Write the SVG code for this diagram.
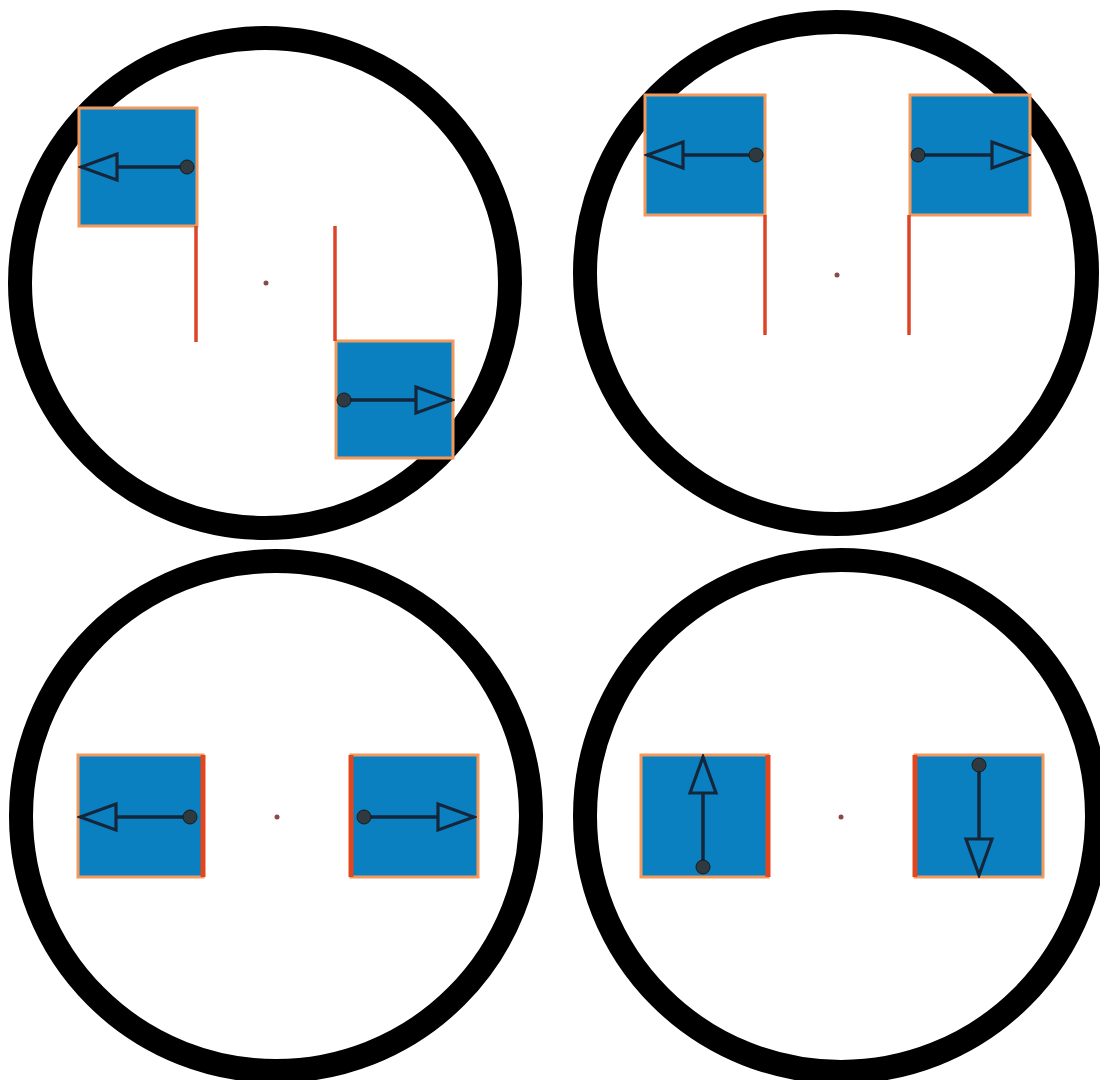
<svg xmlns="http://www.w3.org/2000/svg" width="1100" height="1080" viewBox="0 0 1100 1080">
<style>
.ring{fill:none;stroke:#000;stroke-width:24}
.box{fill:#0a80c0;stroke:#f29a5e;stroke-width:3}
.handle{stroke:#dc4428;stroke-width:3.5;fill:none}
.edge{stroke:#e2461e;stroke-width:5;fill:none}
.center{fill:#8a4a4a}
.arr{stroke:#16263a;stroke-width:3.5;fill:none;marker-end:url(#head)}
.pin{fill:#2e3a40;stroke:#1a1a1a;stroke-width:1}
</style>
<defs>
<marker id="head" markerUnits="userSpaceOnUse" viewBox="-3 -3 42 32" markerWidth="42" markerHeight="32" refX="36" refY="13" orient="auto">
<path d="M0,0 L36,13 L0,26 Z" fill="#0a80c0" stroke="#16263a" stroke-width="3.2" stroke-linejoin="miter"/>
</marker>
</defs>
<rect width="1100" height="1080" fill="#fff"/>

<g id="circle-tl">
<circle class="ring" cx="265" cy="283" r="245"/>
<circle class="center" cx="266" cy="283" r="2.5"/>
</g>
<g id="circle-tr">
<circle class="ring" cx="836" cy="273" r="251"/>
<circle class="center" cx="837" cy="275" r="2.5"/>
</g>
<g id="circle-bl">
<circle class="ring" cx="276" cy="816" r="255"/>
<circle class="center" cx="277" cy="817" r="2.5"/>
</g>
<g id="circle-br">
<circle class="ring" cx="841" cy="816" r="256"/>
<circle class="center" cx="841" cy="817" r="2.5"/>
</g>

<g id="node-tl-1">
<rect class="box" x="79" y="108" width="118" height="118"/>
<line class="handle" x1="196" y1="226" x2="196" y2="342"/>
</g>
<g id="node-tl-2">
<rect class="box" x="336" y="341" width="117" height="117"/>
<line class="handle" x1="335" y1="226" x2="335" y2="341"/>
</g>
<g id="node-tr-1">
<rect class="box" x="645" y="95" width="120" height="120"/>
<line class="handle" x1="765" y1="215" x2="765" y2="335"/>
</g>
<g id="node-tr-2">
<rect class="box" x="910" y="95" width="120" height="120"/>
<line class="handle" x1="909" y1="215" x2="909" y2="335"/>
</g>
<g id="node-bl-1">
<rect class="box" x="78" y="755" width="125" height="122"/>
<line class="edge" x1="203" y1="755" x2="203" y2="877"/>
</g>
<g id="node-bl-2">
<rect class="box" x="351" y="755" width="127" height="122"/>
<line class="edge" x1="351" y1="755" x2="351" y2="877"/>
</g>
<g id="node-br-1">
<rect class="box" x="641" y="755" width="127" height="122"/>
<line class="edge" x1="768" y1="755" x2="768" y2="877"/>
</g>
<g id="node-br-2">
<rect class="box" x="915" y="755" width="128" height="122"/>
<line class="edge" x1="915" y1="755" x2="915" y2="877"/>
</g>

<g id="connectors">
<line class="arr" x1="187" y1="167" x2="81" y2="167"/>
<circle class="pin" cx="187" cy="167" r="7"/>
<line class="arr" x1="344" y1="400" x2="452" y2="400"/>
<circle class="pin" cx="344" cy="400" r="7"/>
<line class="arr" x1="756" y1="155" x2="647" y2="155"/>
<circle class="pin" cx="756" cy="155" r="7"/>
<line class="arr" x1="918" y1="155" x2="1028" y2="155"/>
<circle class="pin" cx="918" cy="155" r="7"/>
<line class="arr" x1="190" y1="817" x2="80" y2="817"/>
<circle class="pin" cx="190" cy="817" r="7"/>
<line class="arr" x1="364" y1="817" x2="474" y2="817"/>
<circle class="pin" cx="364" cy="817" r="7"/>
<line class="arr" x1="703" y1="867" x2="703" y2="757"/>
<circle class="pin" cx="703" cy="867" r="7"/>
<line class="arr" x1="979" y1="765" x2="979" y2="875"/>
<circle class="pin" cx="979" cy="765" r="7"/>
</g>
</svg>
